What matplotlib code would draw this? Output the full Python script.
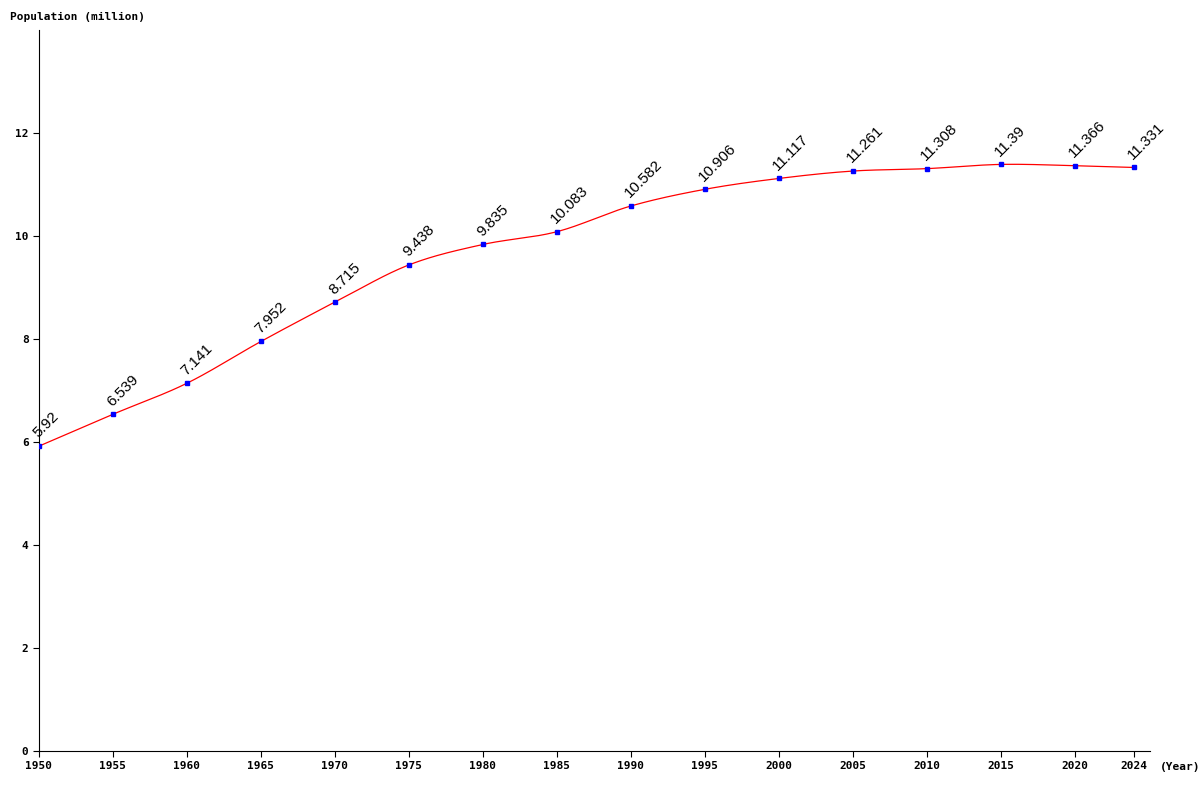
import matplotlib
matplotlib.use("Agg")
import matplotlib.pyplot as plt
import numpy as np

years = [1950, 1955, 1960, 1965, 1970, 1975, 1980, 1985, 1990, 1995, 2000, 2005, 2010, 2015, 2020, 2024]
population = [5.92, 6.539, 7.141, 7.952, 8.715, 9.438, 9.835, 10.083, 10.582, 10.906, 11.117, 11.261, 11.308, 11.39, 11.366, 11.331]
labels = ["5.92", "6.539", "7.141", "7.952", "8.715", "9.438", "9.835", "10.083", "10.582", "10.906", "11.117", "11.261", "11.308", "11.39", "11.366", "11.331"]

fig = plt.figure(figsize=(12, 8), dpi=100)
ax = fig.add_axes([39/1200, 49/800, 1111/1200, 721/800])

# Smooth curve (Catmull-Rom through the data points)
x = np.array(years, float); y = np.array(population, float)
xs, ys = [], []
for i in range(len(x) - 1):
    x0, x1 = x[i], x[i+1]
    y0, y1 = y[i], y[i+1]
    m0 = (y[i+1]-y[i-1])/(x[i+1]-x[i-1]) if i > 0 else (y1-y0)/(x1-x0)
    m1 = (y[i+2]-y[i])/(x[i+2]-x[i]) if i+2 < len(x) else (y1-y0)/(x1-x0)
    t = np.linspace(0, 1, 30)
    h = x1 - x0
    h00 = 2*t**3-3*t**2+1; h10 = t**3-2*t**2+t; h01 = -2*t**3+3*t**2; h11 = t**3-t**2
    xs.extend(x0 + t*h); ys.extend(h00*y0 + h10*h*m0 + h01*y1 + h11*h*m1)
ax.plot(xs, ys, color="red", lw=0.9, zorder=2)
ax.plot(years, population, linestyle="none", marker="s", ms=3.5, color="blue", zorder=3)

for xv, yv, lab in zip(years, population, labels):
    ax.annotate(lab, (xv, yv), xytext=(1, 4), textcoords="offset points",
                rotation=45, fontsize=11, family="Liberation Sans",
                ha="left", va="bottom", rotation_mode="anchor")

ax.set_xlim(1950, 2025.1)
ax.set_ylim(0, 14)
ax.set_xticks(years)
ax.set_xticklabels([str(v) for v in years])
ax.set_yticks([0, 2, 4, 6, 8, 10, 12])
for s in ["top", "right"]:
    ax.spines[s].set_visible(False)
ax.tick_params(direction="out", length=4, labelsize=8)
for lab in ax.get_xticklabels() + ax.get_yticklabels():
    lab.set_family("DejaVu Sans Mono"); lab.set_fontweight("bold")

fig.text(10/1200, 1-17/800, "Population (million)", family="DejaVu Sans Mono",
         fontweight="bold", fontsize=8, va="center", ha="left")
fig.text(1160/1200, 1-767/800, "(Year)", family="DejaVu Sans Mono",
         fontweight="bold", fontsize=8, va="center", ha="left")

fig.savefig("out.png", dpi=100)
